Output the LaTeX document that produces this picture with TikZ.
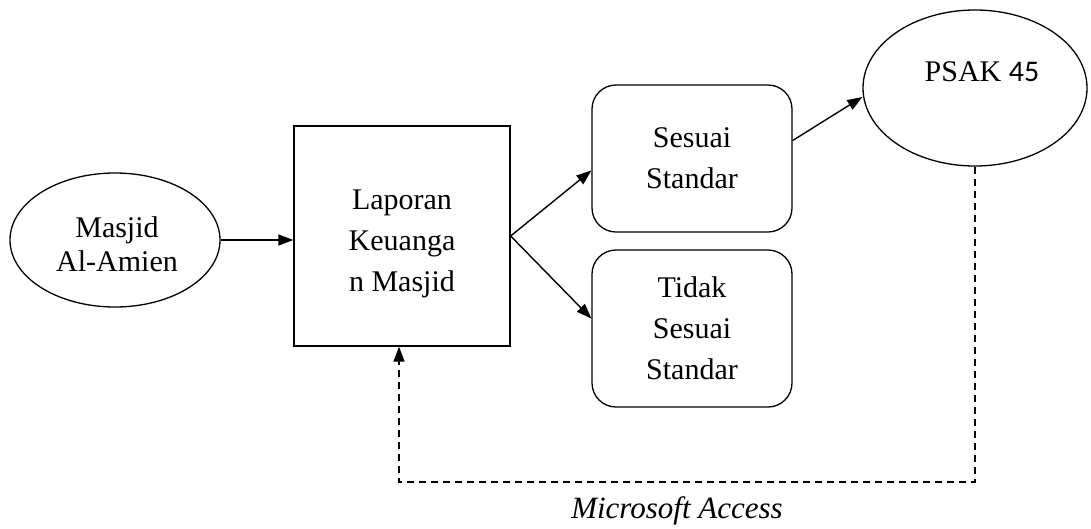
\documentclass[tikz,border=0pt]{standalone}
\usepackage{fontspec}
\setmainfont{Liberation Serif}
\newfontfamily\calib{Carlito}
\usetikzlibrary{shapes.geometric,arrows.meta}
\begin{document}
\begin{tikzpicture}[x=1pt,y=1pt,
  txt/.style={font=\fontsize{30}{41}\selectfont, align=center, inner sep=0pt},
  shp/.style={draw, line width=1.3pt, inner sep=0pt},
  arr/.style={line width=1.4pt, -{Triangle[length=15pt,width=11pt]}},
  dsh/.style={line width=1.4pt, dash pattern=on 7pt off 5pt, -{Triangle[length=15pt,width=11pt]}}]
\useasboundingbox (0,0) rectangle (1091,-528);
\node[shp, ellipse, minimum width=210pt, minimum height=134pt] (masjid) at (115,-240) {};
\node[txt, font=\fontsize{30}{34}\selectfont] (masjidtxt) at (117,-244) {Masjid\\Al-Amien};
\node[shp, rectangle, minimum width=216pt, minimum height=220pt] (box) at (402,-236) {};
\node[txt] (boxtxt) at (402,-243.5) {Laporan\\Keuanga\\n Masjid};
\node[shp, rectangle, rounded corners=24pt, minimum width=200pt, minimum height=147pt, txt] (ss) at (692,-158.5) {Sesuai\\Standar};
\node[shp, rectangle, rounded corners=24pt, minimum width=200pt, minimum height=157pt, txt] (ts) at (692,-328.5) {Tidak\\Sesuai\\Standar};
\node[shp, ellipse, minimum width=224pt, minimum height=156pt] (psak) at (975,-88) {};
\node[txt] (psaktxt) at (982,-71.7) {PSAK {\calib 45}};
\node[txt, font=\fontsize{31}{41}\selectfont\itshape] (ms) at (677,-511) {Microsoft Access};
\draw[arr] (masjid.east) -- (masjid.east -| box.west);
\draw[arr] (box.east) -- ([yshift=-12pt]ss.west);
\draw[arr] (box.east) -- ([yshift=10pt]ts.west);
\draw[arr] ([yshift=18pt]ss.east) -- ([yshift=-9pt]psak.west);
\coordinate (c1) at (975,-482);
\coordinate (c2) at (399,-482);
\draw[dsh] (psak.south) -- (c1) -- (c2) -- (c2 |- box.south);
\end{tikzpicture}
\end{document}
